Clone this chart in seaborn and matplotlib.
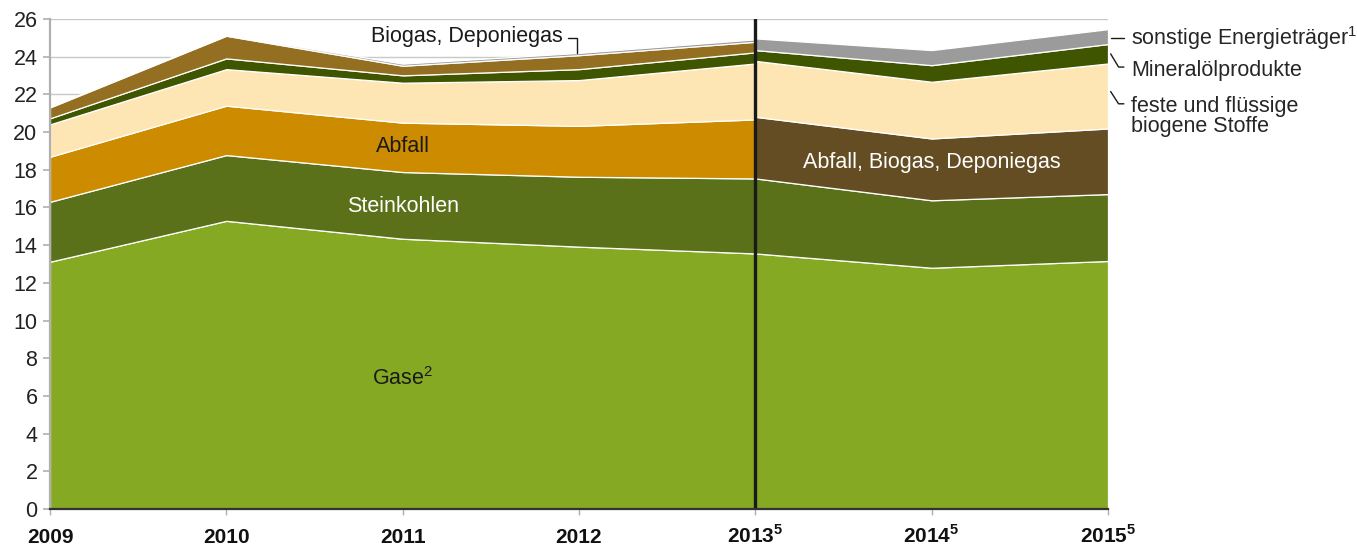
import numpy as np
import matplotlib
matplotlib.use("Agg")
import matplotlib.pyplot as plt
import seaborn as sns

# ── Data ─────────────────────────────────────────────────────────────────
years_a = [2009, 2010, 2011, 2012, 2013]
years_b = [2013, 2014, 2015]

gase_a     = [13.12, 15.29, 14.34, 13.92, 13.56]
stein_a    = [3.18, 3.49, 3.54, 3.71, 3.98]
abfall_a   = [2.39, 2.62, 2.62, 2.70, 3.13]
biogen_a   = [1.72, 1.94, 2.12, 2.43, 2.97]
mineral_a  = [0.32, 0.57, 0.39, 0.58, 0.59]
biogas_a   = [0.58, 1.20, 0.51, 0.74, 0.56]
sonst_a    = [0.05, 0.05, 0.11, 0.12, 0.13]

gase_b      = [13.56, 12.80, 13.16]
stein_b     = [3.98, 3.58, 3.55]
abfall_bd_b = [3.27, 3.28, 3.48]
biogen_b    = [2.97, 3.01, 3.45]
mineral_b   = [0.57, 0.88, 1.03]
sonst_b     = [0.62, 0.80, 0.79]

tick_labels = ["2009", "2010", "2011", "2012",
               r"2013$^{\mathbf{5}}$", r"2014$^{\mathbf{5}}$", r"2015$^{\mathbf{5}}$"]

C_GASE, C_STEIN, C_ABF = "#85a923", "#5a711a", "#cd8b00"
C_BIO, C_MIN, C_BGAS = "#fde6b3", "#3f5500", "#946f22"
C_SONST, C_ABFBD = "#9b9b9b", "#644d23"

FS = 15.5

# ── Style ────────────────────────────────────────────────────────────────
sns.set_style("white")
plt.rcParams["font.family"] = ["Liberation Sans", "DejaVu Sans"]
plt.rcParams["mathtext.fontset"] = "custom"
plt.rcParams["mathtext.rm"] = "Liberation Sans"
plt.rcParams["mathtext.bf"] = "Liberation Sans:bold"

fig = plt.figure(figsize=(13.57, 5.47), dpi=100)
ax = fig.add_axes([50 / 1357, 1 - 509 / 547, (1108 - 50) / 1357, 490 / 547])

ax.stackplot(years_a, gase_a, stein_a, abfall_a, biogen_a, mineral_a, biogas_a, sonst_a,
             colors=[C_GASE, C_STEIN, C_ABF, C_BIO, C_MIN, C_BGAS, C_SONST],
             edgecolor="white", linewidth=0.9, zorder=2)
ax.stackplot(years_b, gase_b, stein_b, abfall_bd_b, biogen_b, mineral_b, sonst_b,
             colors=[C_GASE, C_STEIN, C_ABFBD, C_BIO, C_MIN, C_SONST],
             edgecolor="white", linewidth=0.9, zorder=2)

ax.axvline(2013, color="#1a1a1a", lw=2.4, zorder=4)

ax.set_xlim(2009, 2015)
ax.set_ylim(0, 26)
ax.set_yticks(np.arange(0, 27, 2))
ax.set_xticks(years_a + years_b[1:])
ax.set_xticklabels(tick_labels, fontweight="bold", fontsize=15)
for lbl in ax.get_xticklabels():
    lbl.set_va("baseline")
ax.tick_params(axis="y", labelsize=FS, labelcolor="#222222", color="#b0b0b0",
               length=5, width=1.2, direction="out", left=True, pad=4)
ax.tick_params(axis="x", length=4.5, width=1, color="#b0b0b0", bottom=True, pad=20,
               labelcolor="#111111")
ax.yaxis.grid(True, color="#c8c8c8", lw=1, zorder=0)
ax.set_axisbelow(True)

for s in ["top", "right"]:
    ax.spines[s].set_visible(False)
ax.spines["left"].set_color("#b0b0b0")
ax.spines["left"].set_linewidth(1.6)
ax.spines["bottom"].set_color("#333333")
ax.spines["bottom"].set_linewidth(1.6)
ax.spines["bottom"].set_zorder(5)

# ── In-chart labels ──────────────────────────────────────────────────────
ax.text(2011.0, 19.26, "Abfall", ha="center", va="center", fontsize=FS, color="#1a1a1a", zorder=5)
ax.text(2011.0, 16.07, "Steinkohlen", ha="center", va="center", fontsize=FS, color="white", zorder=5)
ax.text(2011.0, 6.9, r"Gase$^{2}$", ha="center", va="center", fontsize=FS, color="#1a1a1a", zorder=5)
ax.text(2014.0, 18.4, "Abfall, Biogas, Deponiegas", ha="center", va="center",
        fontsize=FS, color="white", zorder=5)

ax.text(2011.91, 25.05, "Biogas, Deponiegas", ha="right", va="center", fontsize=FS,
        color="#1a1a1a", zorder=5)
ax.plot([2011.94, 2011.99, 2011.99], [25.0, 25.0, 24.18], color="#1a1a1a", lw=1,
        clip_on=False, zorder=5)

# ── Right-hand labels with leader lines ─────────────────────────────────
lx0, lx1, lx2 = 2015.015, 2015.06, 2015.09
ax.plot([lx0, lx2], [25.0, 25.0], color="#1a1a1a", lw=1, clip_on=False)
ax.text(2015.13, 24.97, r"sonstige Energieträger$^{1}$", ha="left", va="center", fontsize=FS)

ax.plot([lx0, lx1, lx2], [24.15, 23.45, 23.45], color="#1a1a1a", lw=1, clip_on=False)
ax.text(2015.13, 23.29, "Mineralölprodukte", ha="left", va="center", fontsize=FS)

ax.plot([lx0, lx1, lx2], [22.15, 21.5, 21.5], color="#1a1a1a", lw=1, clip_on=False)
ax.text(2015.13, 20.82, "feste und flüssige\nbiogene Stoffe", ha="left", va="center",
        fontsize=FS, linespacing=0.95)

fig.savefig("out.png", dpi=100)
